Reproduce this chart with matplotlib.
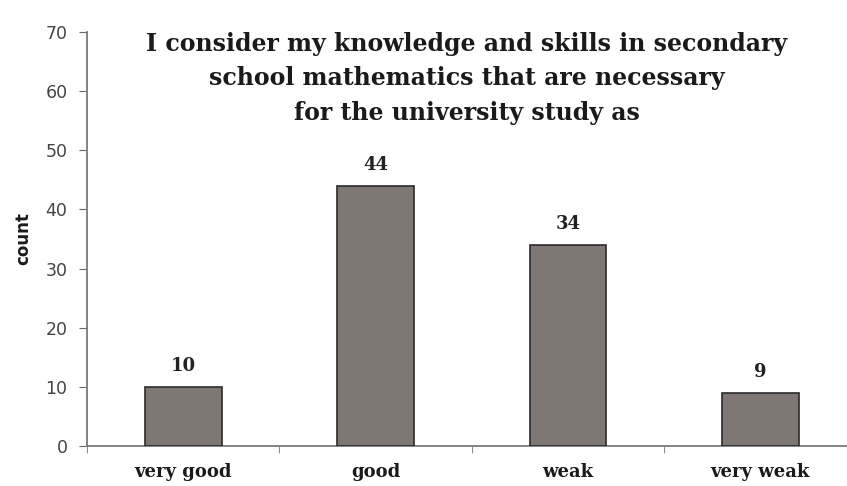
import numpy as np
import matplotlib.pyplot as plt

# survey answers
categories = ['very good', 'good', 'weak', 'very weak']
counts = [10, 44, 34, 9]
yticks = [0, 10, 20, 30, 40, 50, 60, 70]
title = ('I consider my knowledge and skills in secondary\n'
         'school mathematics that are necessary\n'
         'for the university study as')

serif = 'DejaVu Serif'
sans = 'DejaVu Sans'

fig = plt.figure(figsize=(8.47, 4.86), dpi=100)
ax = fig.add_axes([87/847, 40/486, 760/847, 414/486])

x = np.arange(len(categories))
bars = ax.bar(x, counts, width=0.40, color='#7f7773', edgecolor='#2b2b2b', linewidth=1.2, zorder=3)

for xi, c in zip(x, counts):
    ax.text(xi, c + 2.0, str(c), ha='center', va='bottom', fontsize=13,
            fontweight='bold', family=serif, color='#222222')

ax.set_xlim(-0.5, 3.45)
ax.set_ylim(0, 70)
ax.set_yticks(yticks)
ax.tick_params(axis='y', labelsize=12.5, colors='#666666', labelcolor='#444444', length=6, direction='out', pad=8)
for lbl in ax.get_yticklabels():
    lbl.set_family(sans)

# category labels at bar centres, ticks between categories
ax.set_xticks(x)
ax.set_xticklabels(categories, fontsize=13, fontweight='bold', family=serif, color='#1a1a1a')
ax.tick_params(axis='x', length=0, pad=12)
ax.set_xticks([-0.5, 0.5, 1.5, 2.5], minor=True)
ax.tick_params(axis='x', which='minor', length=5, color='#777777')

for side in ['top', 'right']:
    ax.spines[side].set_visible(False)
for side in ['left', 'bottom']:
    ax.spines[side].set_color('#7a7a7a')
    ax.spines[side].set_linewidth(1.3)

ax.set_ylabel('count', fontsize=12, fontweight='bold', family=sans, color='#1a1a1a')
ax.yaxis.set_label_coords(-0.072, 0.5)

ax.text(0.5, 1.0, title, transform=ax.transAxes, ha='center', va='top',
        fontsize=17, fontweight='bold', family=serif, color='#1a1a1a', linespacing=1.55)

fig.savefig('out.png', dpi=100)
